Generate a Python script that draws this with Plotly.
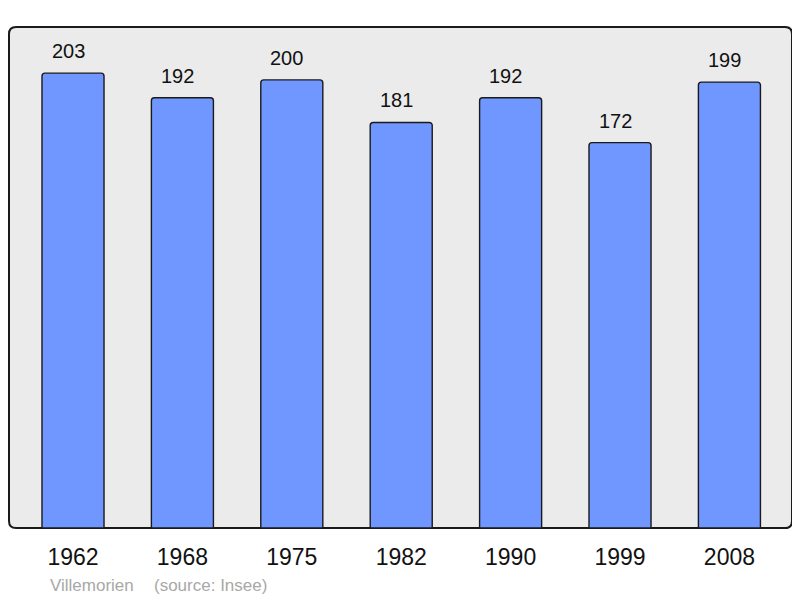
import plotly.graph_objects as go

years = ["1962", "1968", "1975", "1982", "1990", "1999", "2008"]
population = [203, 192, 200, 181, 192, 172, 199]
footer_place = "Villemorien"
footer_source = "(source: Insee)"

# page is rendered with an 8px body margin
OFF = 8
W, H = 800 - OFF, 598 - OFF
L, R, T, B = 9 - OFF, 8, 27 - OFF, 70
pw, ph = W - L - R, H - T - B
FONT = "Liberation Sans, Arial, sans-serif"

fig = go.Figure()
fig.add_trace(go.Bar(
    x=years, y=population, width=0.567,
    marker=dict(color="#7097ff", line=dict(color="#1a1a1a", width=1.4), cornerradius=3),
    hoverinfo="skip",
))

for i, v in enumerate(population):
    fig.add_annotation(x=i, y=v, xref="x", yref="y", text=str(v), showarrow=False,
                       yshift=22, xshift=-5, font=dict(family=FONT, size=20, color="#111"))

# rounded frame in paper coordinates
rx, ry = 7 / pw, 7 / ph
path = (f"M {rx},0 L {1-rx},0 Q 1,0 1,{ry} L 1,{1-ry} Q 1,1 {1-rx},1 "
        f"L {rx},1 Q 0,1 0,{1-ry} L 0,{ry} Q 0,0 {rx},0 Z")
fig.add_shape(type="path", path=path, xref="paper", yref="paper",
              fillcolor="#ebebeb", line=dict(color="#1a1a1a", width=2), layer="below")

plot_left_page = OFF + L
plot_bottom_page = OFF + T + ph
for txt, xp in [(footer_place, 48), (footer_source, 152)]:
    fig.add_annotation(xref="paper", yref="paper", x=(xp - plot_left_page) / pw, y=0,
                       xanchor="left", yanchor="middle", yshift=-(585 - plot_bottom_page),
                       text=txt, showarrow=False,
                       font=dict(family=FONT, size=17, color="#a8a8a8"))

fig.update_layout(
    width=W, height=H,
    margin=dict(l=L, r=R, t=T, b=B),
    paper_bgcolor="white", plot_bgcolor="rgba(0,0,0,0)",
    showlegend=False,
    xaxis=dict(type="category", range=[-0.585, 6.572], showgrid=False, zeroline=False,
               showline=False, ticks="", ticklabelstandoff=13,
               tickfont=dict(family=FONT, size=23, color="#111")),
    yaxis=dict(range=[0, 223.6], showgrid=False, zeroline=False, showticklabels=False, showline=False),
)

fig.write_html("out.html")
